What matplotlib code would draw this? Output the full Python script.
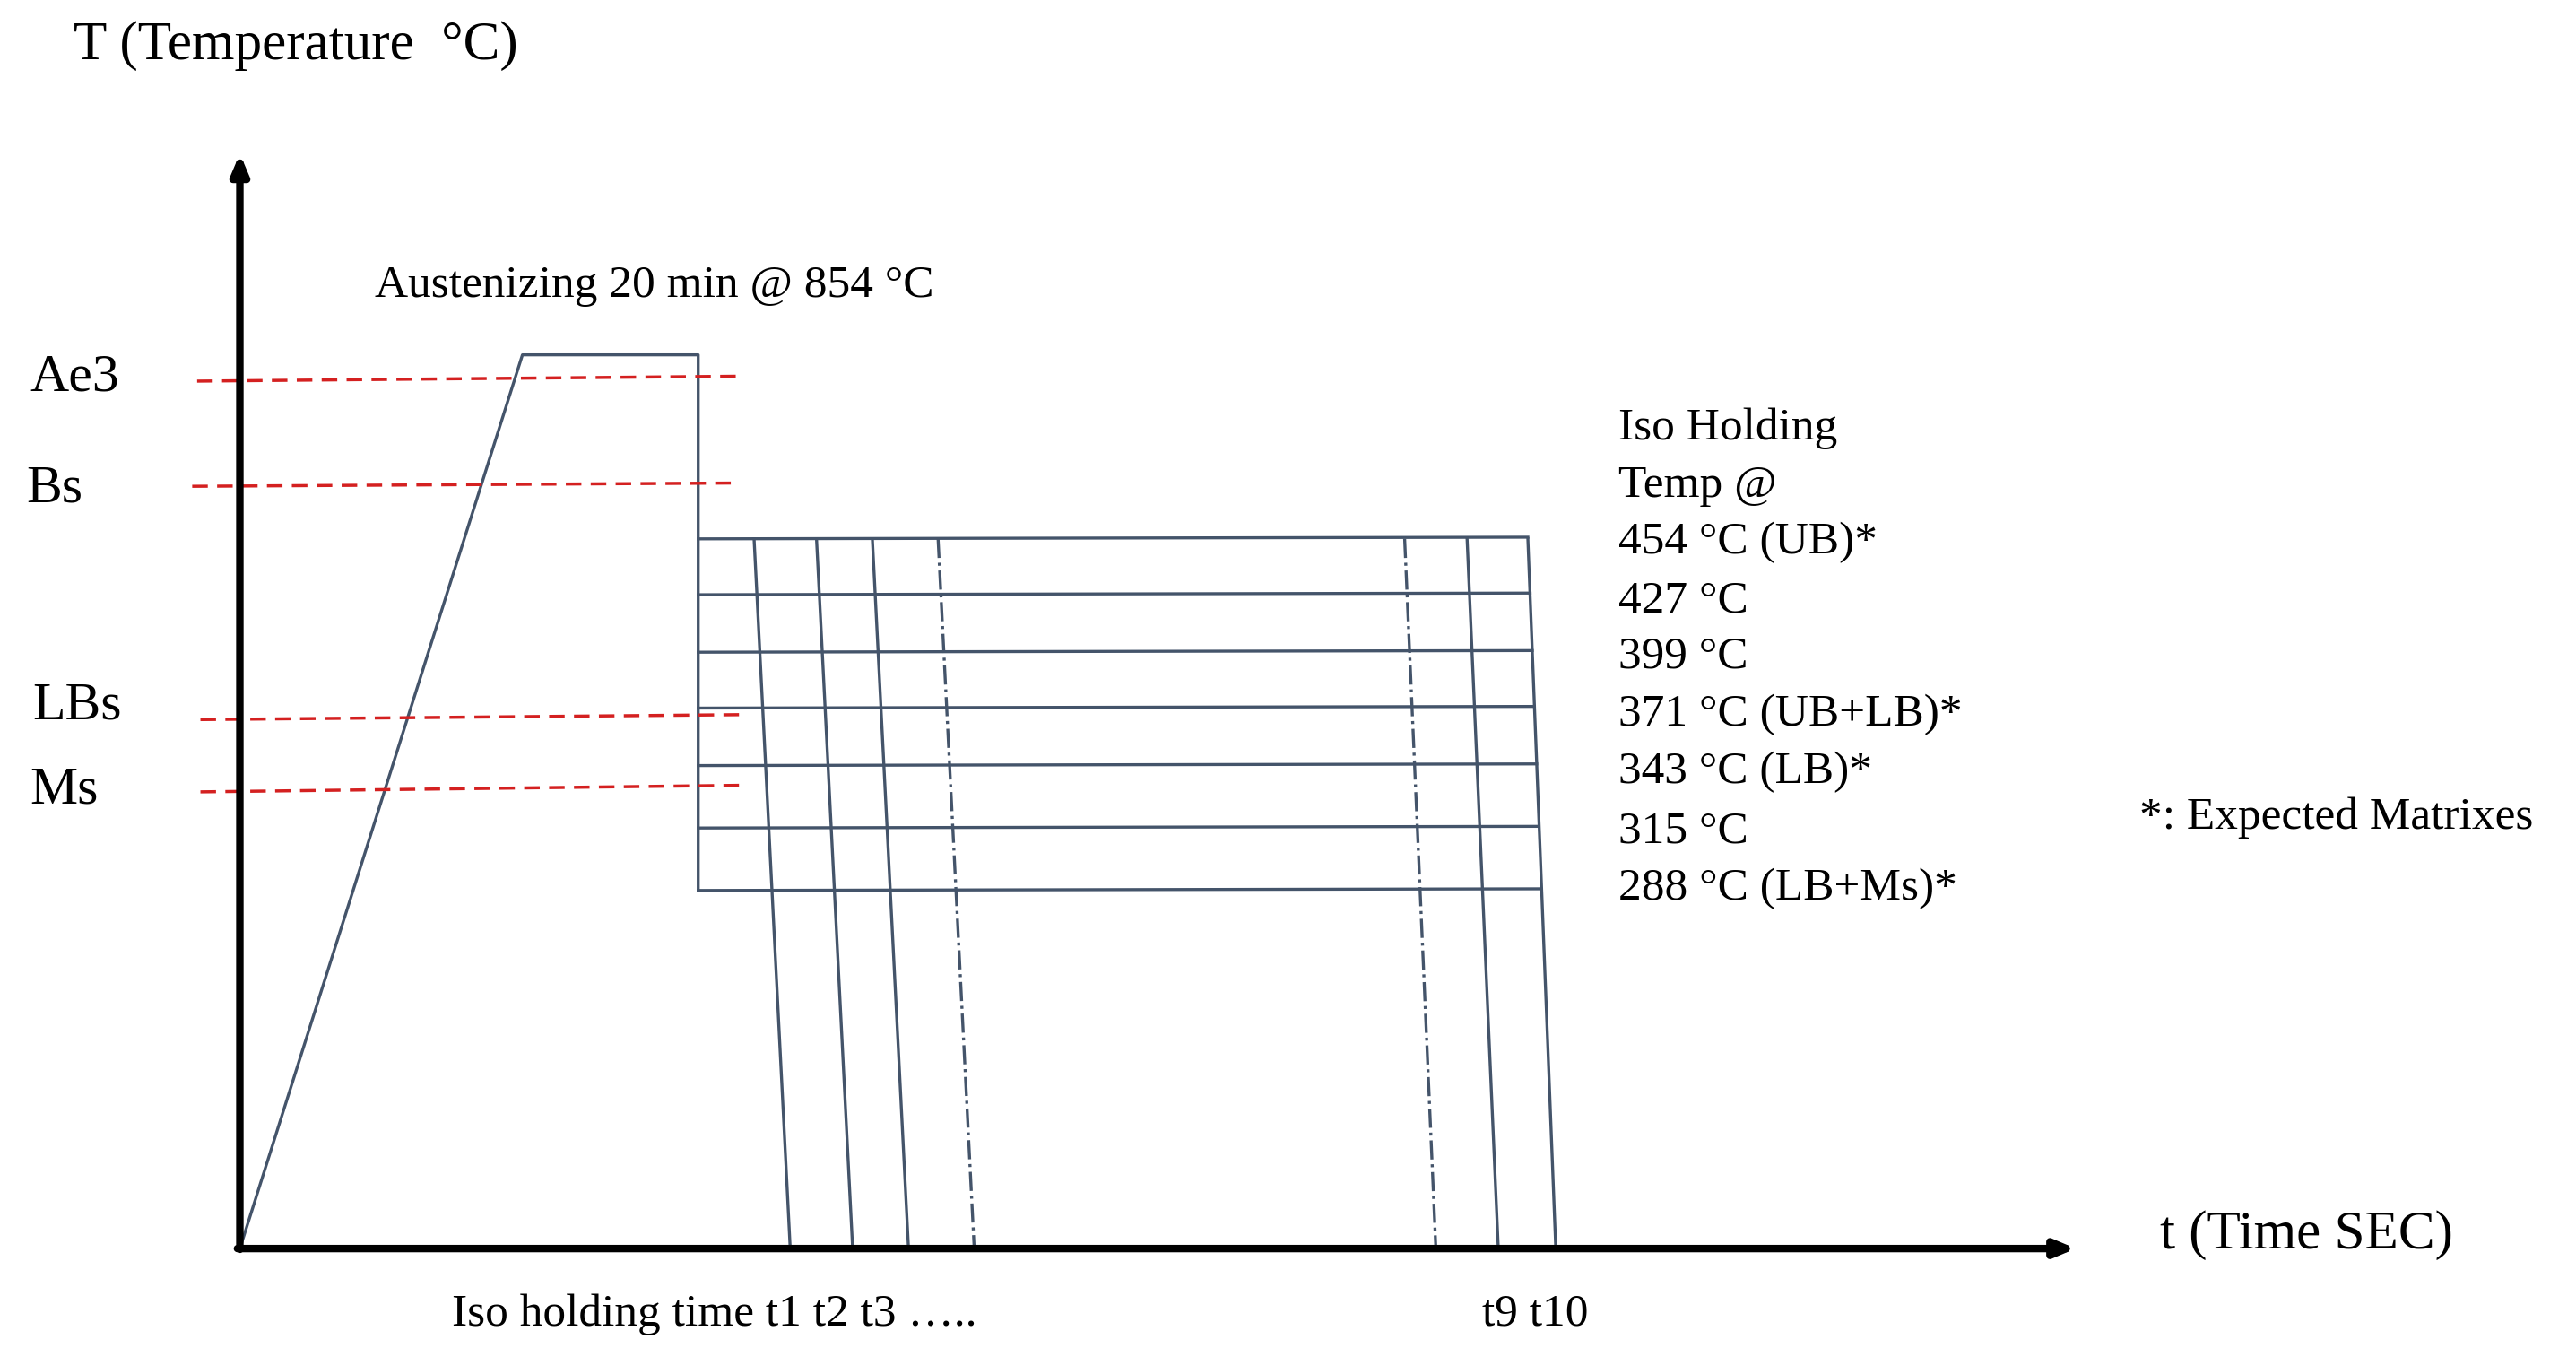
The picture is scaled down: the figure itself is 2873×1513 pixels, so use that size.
import matplotlib
matplotlib.use("Agg")
import matplotlib.pyplot as plt

plt.rcParams['font.family'] = ['Liberation Serif', 'DejaVu Serif']

# schematic data (diagram units: x = time position, y = height on image, inverted)
hold_temps = ["454 °C (UB)*", "427 °C", "399 °C", "371 °C (UB+LB)*", "343 °C (LB)*", "315 °C", "288 °C (LB+Ms)*"]
hold_levels = [328, 362, 397, 431, 466, 504, 542]
hold_start = 425
hold_end_top = 930
hold_end_bot = 938
quench_top_x = [459, 497, 531, 571, 855, 893, 930]
quench_bot_x = [481, 519, 553, 593, 874, 912, 947]
quench_style = ['-', '-', '-', '-.', '-.', '-', '-']
crit_names = ["Ae3", "Bs", "LBs", "Ms"]
crit_y_left = [232, 296, 438, 482]
crit_y_right = [229, 294, 435, 478]
crit_x_left = [120, 117, 122, 122]
crit_x_right = [450, 448, 452, 452]
crit_label_xy = [(18, 230), (16, 298), (20, 430), (18, 481)]
heat_x = [146, 318, 425, 425]
heat_y = [760, 216, 216, 542]

fig = plt.figure(figsize=(28.73, 15.13), dpi=100)
ax = fig.add_axes([0, 0, 1, 1])
ax.set_xlim(0, 1568)
ax.set_ylim(826, 0)
ax.axis('off')

lc = '#44546a'
lw = 2.4
ax.annotate('', xy=(146, 92), xytext=(146, 762),
            arrowprops=dict(arrowstyle='-|>,head_width=0.55,head_length=1.3', color='black', lw=6))
ax.annotate('', xy=(1265, 760), xytext=(143, 760),
            arrowprops=dict(arrowstyle='-|>,head_width=0.55,head_length=1.3', color='black', lw=6))

ax.plot(heat_x, heat_y, color=lc, lw=lw)
for i, y in enumerate(hold_levels):
    xe = hold_end_top + (hold_end_bot - hold_end_top) * i / (len(hold_levels) - 1)
    ax.plot([hold_start, xe], [y, y - 1], color=lc, lw=lw)
for xt, xb, ls in zip(quench_top_x, quench_bot_x, quench_style):
    ax.plot([xt, xb], [hold_levels[0], 760], color=lc, lw=lw, ls=ls)

for name, yl, yr, xl, xr, (tx, ty) in zip(crit_names, crit_y_left, crit_y_right,
                                           crit_x_left, crit_x_right, crit_label_xy):
    ax.plot([xl, xr], [yl, yr], color='#d42020', lw=2.5, ls=(0, (5, 3)))
    ax.text(tx, ty, name, fontsize=43, va='center', ha='left')

fs = 36
ax.text(45, 28, "T (Temperature  °C)", fontsize=44, va='center')
ax.text(228, 174, "Austenizing 20 min @ 854 °C", fontsize=fs + 1, va='center')
ax.text(985, 261, "Iso Holding", fontsize=fs + 1, va='center')
ax.text(985, 296, "Temp @", fontsize=fs + 1, va='center')
for lab, y in zip(hold_temps, [330, 366, 400, 435, 470, 506, 541]):
    ax.text(985, y, lab, fontsize=fs + 1, va='center')
ax.text(1302, 498, "*: Expected Matrixes", fontsize=fs + 1, va='center')
ax.text(1315, 752, "t (Time SEC)", fontsize=44, va='center')
ax.text(275, 800, "Iso holding time t1 t2 t3 …..", fontsize=fs + 1, va='center')
ax.text(902, 800, "t9 t10", fontsize=fs + 1, va='center')

fig.savefig("out.png", dpi=100)
